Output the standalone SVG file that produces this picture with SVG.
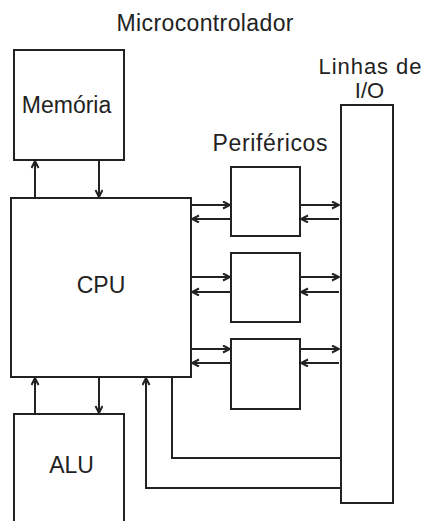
<svg xmlns="http://www.w3.org/2000/svg" width="422" height="521" viewBox="0 0 422 521">
<style>
.box{fill:#fff;stroke:#222;stroke-width:2}
.lbl{font-family:"Liberation Sans",Arial,sans-serif;font-size:23px;fill:#222;text-anchor:middle}
.c{fill:none;stroke:#222;stroke-width:2}
</style>
<defs>
<marker id="ah" markerUnits="userSpaceOnUse" markerWidth="10" markerHeight="10" refX="8" refY="4" orient="auto">
<path d="M1,0.5 L8,4 L1,7.5" fill="none" stroke="#222" stroke-width="2"/>
</marker>
</defs>
<rect width="422" height="521" fill="#fff"/>
<text class="lbl" x="205" y="31" textLength="177" lengthAdjust="spacing">Microcontrolador</text>
<g id="memoria">
<rect class="box" x="14" y="50" width="110" height="110"/>
<text class="lbl" x="66.5" y="113">Memória</text>
</g>
<g id="cpu">
<rect class="box" x="11" y="198" width="180" height="179"/>
<text class="lbl" x="101" y="293">CPU</text>
</g>
<g id="alu">
<rect class="box" x="14" y="414" width="110" height="120"/>
<text class="lbl" x="71.5" y="473">ALU</text>
</g>
<g id="perifericos">
<text class="lbl" x="270" y="151" textLength="115" lengthAdjust="spacing">Periféricos</text>
<rect class="box" x="231" y="167" width="69" height="69"/>
<rect class="box" x="231" y="253" width="69" height="69"/>
<rect class="box" x="231" y="339" width="69" height="70"/>
</g>
<g id="io">
<text class="lbl" x="370" y="74" style="font-size:22px" textLength="103" lengthAdjust="spacing">Linhas de</text>
<text class="lbl" x="369.5" y="97.5" style="font-size:22px">I/O</text>
<rect class="box" x="341" y="105" width="52" height="398"/>
</g>
<g id="connectors">
<line class="c" x1="99" y1="160" x2="99" y2="197" marker-end="url(#ah)"/>
<line class="c" x1="35" y1="198" x2="35" y2="161" marker-end="url(#ah)"/>
<line class="c" x1="35" y1="414" x2="35" y2="378" marker-end="url(#ah)"/>
<line class="c" x1="99" y1="377" x2="99" y2="413" marker-end="url(#ah)"/>
<line class="c" x1="192" y1="205" x2="230" y2="205" marker-end="url(#ah)"/>
<line class="c" x1="231" y1="219" x2="192" y2="219" marker-end="url(#ah)"/>
<line class="c" x1="300" y1="205" x2="339" y2="205" marker-end="url(#ah)"/>
<line class="c" x1="339" y1="219" x2="301" y2="219" marker-end="url(#ah)"/>
<line class="c" x1="192" y1="277" x2="230" y2="277" marker-end="url(#ah)"/>
<line class="c" x1="231" y1="292" x2="192" y2="292" marker-end="url(#ah)"/>
<line class="c" x1="300" y1="277" x2="339" y2="277" marker-end="url(#ah)"/>
<line class="c" x1="339" y1="292" x2="301" y2="292" marker-end="url(#ah)"/>
<line class="c" x1="192" y1="349" x2="230" y2="349" marker-end="url(#ah)"/>
<line class="c" x1="231" y1="363" x2="192" y2="363" marker-end="url(#ah)"/>
<line class="c" x1="300" y1="349" x2="339" y2="349" marker-end="url(#ah)"/>
<line class="c" x1="339" y1="363" x2="301" y2="363" marker-end="url(#ah)"/>
<path class="c" d="M172,377 V458 H340"/>
<path class="c" d="M340,488 H146 V378" marker-end="url(#ah)"/>
</g>
</svg>
